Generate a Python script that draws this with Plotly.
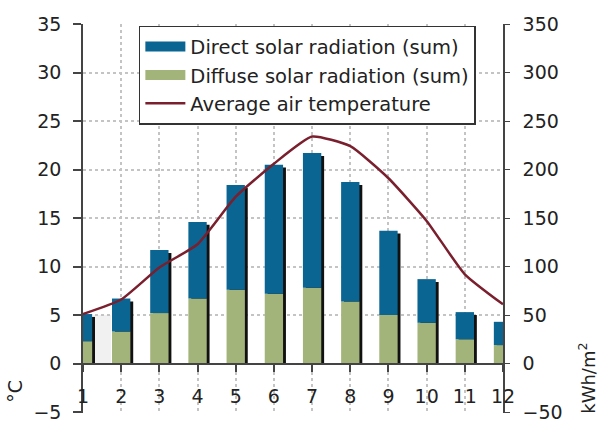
import plotly.graph_objects as go

months = list(range(1, 13))
month_labels = [str(m) for m in months]
diffuse = [23, 33, 52, 67, 76, 72, 78, 64, 50, 42, 25, 19]
direct = [28, 34, 65, 79, 108, 133, 139, 123, 87, 45, 28, 24]
temperature = [5.1, 6.6, 9.9, 12.3, 17.2, 20.6, 23.4, 22.4, 19.1, 14.7, 9.2, 6.1]
temp_ticks = list(range(-5, 40, 5))
rad_ticks = list(range(-50, 400, 50))

total = [a + b for a, b in zip(diffuse, direct)]
shadow = [t - 3 for t in total]

BLUE = "#0b6592"
GREEN = "#a3b47b"
RED = "#7a1f2e"
FONT = "DejaVu Sans"
TXT = "#222222"

fig = go.Figure()

# shadows behind bars
fig.add_trace(go.Bar(x=months, y=shadow, yaxis="y", width=0.48, offset=-0.165,
                     marker=dict(color="#111111", line=dict(width=0)),
                     showlegend=False, hoverinfo="skip"))
fig.add_trace(go.Bar(x=months, y=diffuse, yaxis="y", width=0.48, offset=-0.24,
                     marker=dict(color=GREEN, line=dict(width=0)),
                     name="Diffuse solar radiation (sum)", showlegend=False))
fig.add_trace(go.Bar(x=months, y=direct, base=diffuse, yaxis="y", width=0.48, offset=-0.24,
                     marker=dict(color=BLUE, line=dict(width=0)),
                     name="Direct solar radiation (sum)", showlegend=False))
fig.add_trace(go.Scatter(x=months, y=temperature, yaxis="y2", mode="lines",
                         line=dict(color=RED, width=2.5, shape="spline", smoothing=0.5),
                         name="Average air temperature", showlegend=False))

# legend entries
fig.add_trace(go.Scatter(x=[None], y=[None], mode="lines", line=dict(color=BLUE, width=13),
                         name="Direct solar radiation (sum)", legendgroup="a"))
fig.add_trace(go.Scatter(x=[None], y=[None], mode="lines", line=dict(color=GREEN, width=13),
                         name="Diffuse solar radiation (sum)", legendgroup="b"))
fig.add_trace(go.Scatter(x=[None], y=[None], mode="lines", line=dict(color=RED, width=2.5),
                         name="Average air temperature", legendgroup="c"))

fig.update_layout(
    width=601, height=422,
    margin=dict(l=83, r=98, t=24, b=9, autoexpand=False),
    paper_bgcolor="white", plot_bgcolor="white",
    barmode="overlay",
    font=dict(family=FONT, size=18, color=TXT),
    xaxis=dict(range=[1, 12], tickvals=months, ticktext=month_labels,
               anchor="free", position=0.127, automargin=False,
               showline=True, linecolor="#444444", linewidth=1.5,
               ticks="outside", ticklen=8, tickcolor="#444444", tickwidth=1.5,
               showgrid=True, gridcolor="#c4c4c4", griddash="dot", gridwidth=1.5,
               zeroline=False, ticklabelstandoff=8, ticklabeloverflow="allow",
               tickfont=dict(size=19)),
    yaxis=dict(range=[-51, 350], tickvals=rad_ticks, side="right", automargin=False,
               showline=True, linecolor="#444444", linewidth=1.5,
               ticks="outside", ticklen=5, tickcolor="#444444",
               showgrid=False, zeroline=False, ticklabelstandoff=9,
               ticklabeloverflow="allow",
               tickfont=dict(size=19)),
    yaxis2=dict(range=[-5.1, 35], tickvals=temp_ticks, side="left", overlaying="y",
                automargin=False,
                showline=True, linecolor="#444444", linewidth=1.5,
                ticks="outside", ticklen=8, tickcolor="#444444", tickwidth=1.5,
                showgrid=True, gridcolor="#c4c4c4", griddash="dot", gridwidth=1.5,
                zeroline=False, ticklabelstandoff=8, ticklabeloverflow="allow",
                tickfont=dict(size=19)),
    legend=dict(x=0.133, y=0.995, xanchor="left", yanchor="top",
                bgcolor="white", bordercolor="#333333", borderwidth=1.5,
                font=dict(size=19.5, color=TXT), itemwidth=40,
                traceorder="grouped", tracegroupgap=0),
    shapes=[dict(type="rect", xref="x", yref="y2", x0=1.26, x1=1.73, y0=0, y1=5,
                 fillcolor="#f1f1f1", line=dict(width=0), layer="below")],
    annotations=[
        dict(text="°C", xref="paper", yref="paper", x=-0.162, y=0.057, textangle=-90,
             xanchor="center", yanchor="middle",
             showarrow=False, font=dict(size=19, color=TXT)),
        dict(text="kWh/m<sup>2</sup>", xref="paper", yref="paper", x=1.2, y=0.088, textangle=-90,
             xanchor="center", yanchor="middle",
             showarrow=False, font=dict(size=18, color=TXT)),
    ],
)

fig.write_html("out.html")
